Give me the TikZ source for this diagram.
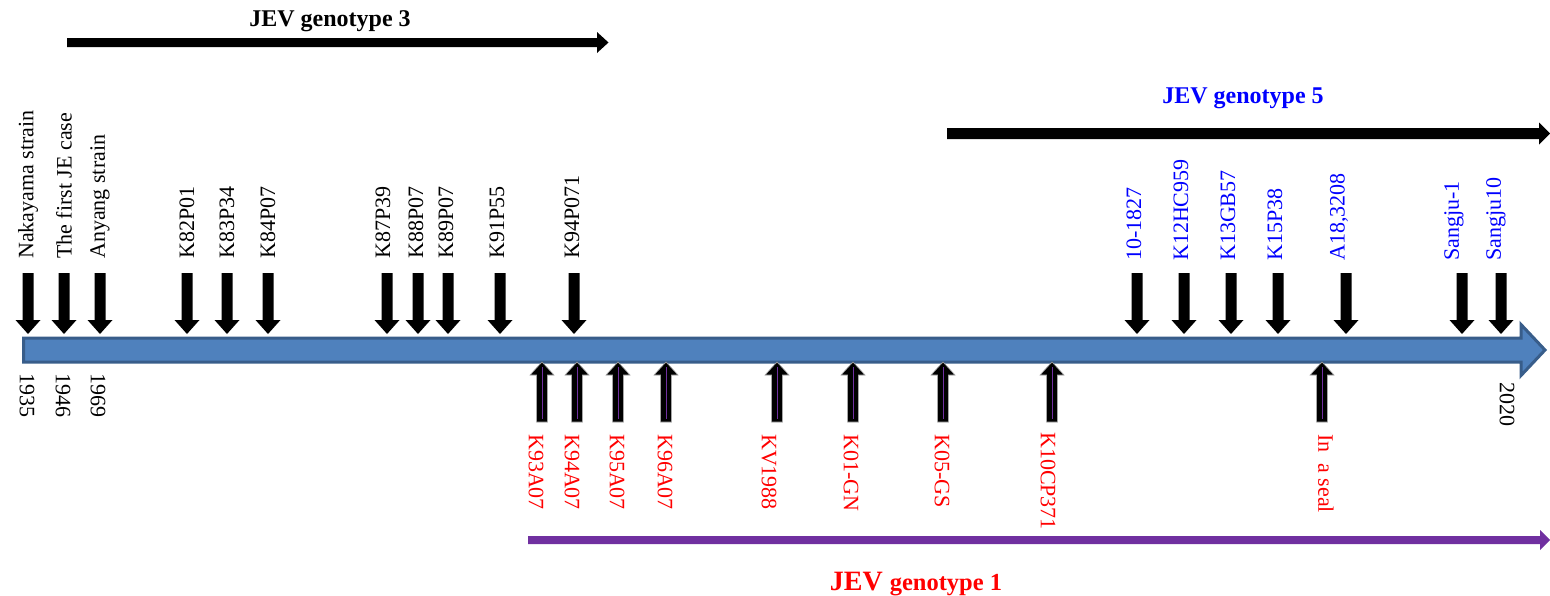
\documentclass[tikz,border=0pt]{standalone}
\usepackage{fontspec}
\setmainfont{Liberation Serif}
\definecolor{axfill}{HTML}{4F81BD}
\definecolor{axline}{HTML}{385D8A}
\definecolor{gone}{HTML}{7030A0}
\definecolor{gred}{HTML}{FF0000}
\definecolor{gblue}{HTML}{0000FF}
\begin{document}
\begin{tikzpicture}[x=1pt,y=-1pt,
  lab/.style={font=\fontsize{22}{24}\selectfont, inner sep=0pt},
  uplab/.style={lab, rotate=90, anchor=west},
  dnlab/.style={lab, rotate=-90, anchor=west},
  ttl/.style={font=\fontsize{24}{28}\selectfont\bfseries, inner sep=0pt, anchor=base},
  uparrow/.style={fill=black, draw=gray!70, line width=0.6pt},
  innerline/.style={draw=gone, line width=0.9pt}
]
\useasboundingbox (0,0) rectangle (1550,595);

% genotype bars
\fill (67,38) -- (597,38) -- (597,32) -- (608.5,42.5) -- (597,53) -- (597,47) -- (67,47) -- cycle;
\fill (947,128) -- (1539,128) -- (1539,122.5) -- (1550,133.5) -- (1539,144.5) -- (1539,139) -- (947,139) -- cycle;
\fill[gone] (528,536) -- (1540,536) -- (1540,530) -- (1550,540) -- (1540,550) -- (1540,544) -- (528,544) -- cycle;

\node[ttl] (g3) at (330,26) {JEV genotype 3};
\node[ttl, text=gblue] (g5) at (1243,103) {JEV genotype 5};
\node[inner sep=0pt, anchor=base, text=gred, font=\bfseries] (g1) at (916,590)
  {\fontsize{28}{30}\selectfont JEV \fontsize{24.5}{28}\selectfont genotype 1};

% main time axis
\filldraw[fill=axfill, draw=axline, line width=3pt, line join=miter]
  (23.5,338) -- (1521,338) -- (1521,324.5) -- (1545,350) -- (1521,375.5) -- (1521,362) -- (23.5,362) -- cycle;

% down arrows
\foreach \x in {28,64,100,187,227,268,387,418,448,500,574,1137,1184,1231,1278,1346,1462,1501}{
  \fill (\x-5.5,273) -- (\x+5.5,273) -- (\x+5.5,320) -- (\x+12.5,320) -- (\x,334) -- (\x-12.5,320) -- (\x-5.5,320) -- cycle;
}

% up arrows
\foreach \x in {542,577,618,666,777,853,943,1052,1322}{
  \filldraw[uparrow] (\x-5.5,422) -- (\x+5.5,422) -- (\x+5.5,375) -- (\x+12,375) -- (\x,362) -- (\x-12,375) -- (\x-5.5,375) -- cycle;
  \draw[innerline] (\x,367) -- (\x,419);
}

% labels above axis (black)
\node[uplab] (l1) at (28,259) {Nakayama strain};
\node[uplab] (l2) at (64,259) {The first JE case};
\node[uplab] (l3) at (100,259) {Anyang strain};
\node[uplab] (l4) at (187,259) {K82P01};
\node[uplab] (l5) at (227,259) {K83P34};
\node[uplab] (l6) at (268,259) {K84P07};
\node[uplab] (l7) at (383,259) {K87P39};
\node[uplab] (l8) at (416,259) {K88P07};
\node[uplab] (l9) at (446,259) {K89P07};
\node[uplab] (l10) at (497,259) {K91P55};
\node[uplab] (l11) at (572,259) {K94P071};

% labels above axis (blue)
\begin{scope}[every node/.append style={text=gblue}]
\node[uplab] (b1) at (1134,261) {10-1827};
\node[uplab] (b2) at (1181,261) {K12HC959};
\node[uplab] (b3) at (1228,261) {K13GB57};
\node[uplab] (b4) at (1275,261) {K15P38};
\node[uplab] (b5) at (1339,261) {A18,3208};
\node[uplab] (b6) at (1454,261) {Sangju-1};
\node[uplab] (b7) at (1496,261) {Sangju10};
\end{scope}

% years
\node[dnlab] (y1) at (27,373) {1935};
\node[dnlab] (y2) at (63,373) {1946};
\node[dnlab] (y3) at (98,373) {1969};
\node[dnlab] (y4) at (1507,382) {2020};

% labels below axis (red)
\begin{scope}[every node/.append style={text=gred}]
\node[dnlab] (r1) at (536,434) {K93A07};
\node[dnlab] (r2) at (572,434) {K94A07};
\node[dnlab] (r3) at (617,434) {K95A07};
\node[dnlab] (r4) at (665,434) {K96A07};
\node[dnlab] (r5) at (769,434) {KV1988};
\node[dnlab] (r6) at (851,434) {K01-GN};
\node[dnlab] (r7) at (942,434) {K05-GS};
\node[dnlab] (r8) at (1048,432) {K10CP371};
\node[dnlab] (r9) at (1326,434) {In\ \ a seal};
\end{scope}
\end{tikzpicture}
\end{document}
